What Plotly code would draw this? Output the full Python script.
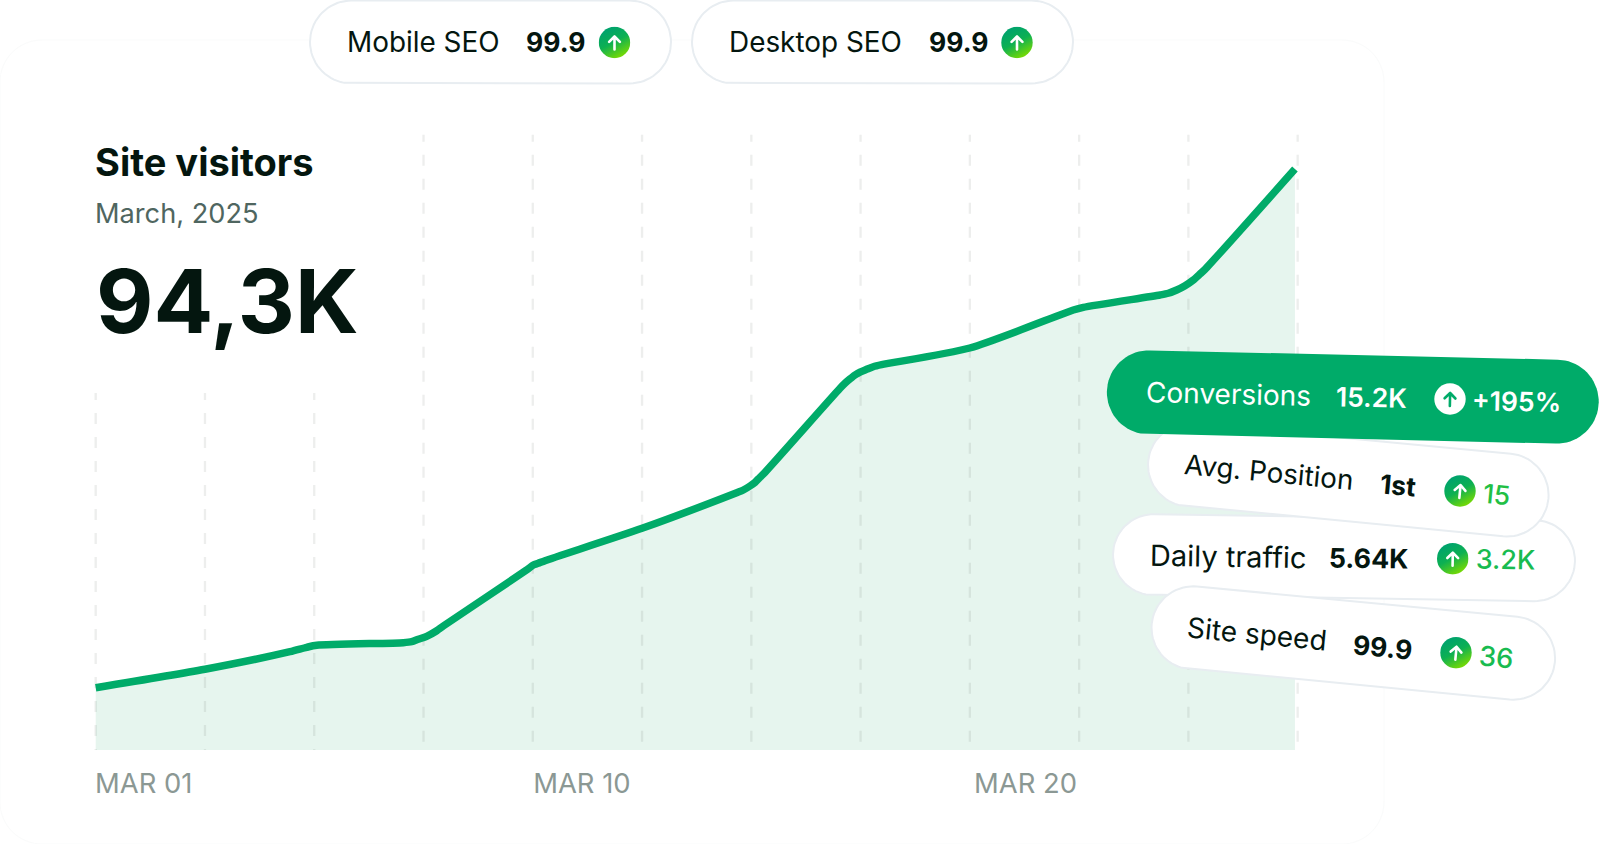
import base64
import math
import plotly.graph_objects as go

# ---------- data ----------
curve_x = [0, 1.0, 1.778, 1.931, 2.023, 2.815, 2.892, 2.952, 3.029, 3.121, 3.181, 3.944, 4.005, 4.05, 4.112, 5.0,
           5.866, 5.927, 5.988, 6.034, 6.079, 6.125, 6.812, 6.857, 6.903, 6.949, 6.995, 7.056, 7.116, 7.193, 7.999,
           8.947, 9.038, 9.74, 9.816, 9.893, 9.969, 10.045, 10.106, 10.152, 10.975]
curve_y = [10.11, 13.10, 15.96, 16.67, 16.99, 17.42, 17.58, 17.97, 18.45, 19.36, 20.13, 29.22, 30.03, 30.30, 30.73, 35.98,
           41.76, 42.20, 42.85, 43.45, 44.26, 45.07, 58.71, 59.52, 60.22, 60.87, 61.35, 61.79, 62.21, 62.54, 65.25,
           71.42, 71.85, 73.85, 74.13, 74.66, 75.36, 76.29, 77.26, 78.02, 94.30]
short_grid = [0, 1, 2]
tall_grid = [3, 4, 5, 6, 7, 8, 9, 10, 11]
short_top = 57.94
tall_top = 99.87
tick_vals = [0, 4.01, 8.07]
tick_text = ["MAR 01", "MAR 10", "MAR 20"]

title = "Site visitors"
subtitle = "March, 2025"
headline = "94,3K"

top_metrics = [("Mobile SEO", "99.9"), ("Desktop SEO", "99.9")]
side_metrics = [("Conversions", "15.2K", "+195%"), ("Avg. Position", "1st", "15"),
                ("Daily traffic", "5.64K", "3.2K"), ("Site speed", "99.9", "36")]

# ---------- page geometry ----------
W, H = 1600, 844
AXIS_PX = 750
X0_PX, X_STEP = 95.7, 109.27
Y_PER_PX = 0.16231
GREEN = "#00ab69"
INK = "#04160f"
FONT = "Inter"


def px(x, y):
    return x / W, (AXIS_PX - y) / AXIS_PX


def outline(cx, cy, length, height, angle, radius=None):
    r = height / 2 if radius is None else radius
    hw, hh = length / 2, height / 2
    corners = [(hw - r, -hh + r, -90), (hw - r, hh - r, 0), (-hw + r, hh - r, 90), (-hw + r, -hh + r, 180)]
    a = math.radians(angle)
    pts = []
    for ox, oy, start in corners:
        for k in range(19):
            t = math.radians(start + k * 5)
            lx, ly = ox + r * math.cos(t), oy + r * math.sin(t)
            pts.append((cx + lx * math.cos(a) - ly * math.sin(a), cy + lx * math.sin(a) + ly * math.cos(a)))
    pts.append(pts[0])
    return pts


def shape_path(pts):
    parts = []
    for x, y in pts:
        a, b = px(x, y)
        parts.append(f"{a:.5f},{b:.5f}")
    return "M" + " L".join(parts) + " Z"


def icon_uri(angle=0, inverted=False):
    if inverted:
        body = '<circle cx="16" cy="16" r="15.7" fill="#ffffff"/>'
        stroke = GREEN
    else:
        body = ('<defs><linearGradient id="g" x1="0.25" y1="0.1" x2="0.72" y2="0.98">'
                '<stop offset="0" stop-color="#00a36c"/><stop offset="0.45" stop-color="#0db052"/>'
                '<stop offset="1" stop-color="#7bdc00"/></linearGradient></defs>'
                '<circle cx="16" cy="16" r="15.7" fill="url(#g)"/>')
        stroke = "#ffffff"
    arrow = (f'<g transform="rotate({angle} 16 16)" fill="none" stroke="{stroke}" stroke-width="2.6" '
             'stroke-linecap="round" stroke-linejoin="round"><path d="M16 23V10M10.6 15.4L16 10l5.4 5.4"/></g>')
    svg = f'<svg xmlns="http://www.w3.org/2000/svg" width="64" height="64" viewBox="0 0 32 32">{body}{arrow}</svg>'
    return "data:image/svg+xml;base64," + base64.b64encode(svg.encode()).decode()


annotations, images, pills = [], [], []


def pill(cx, cy, length, height, angle, fill="#ffffff", line="#e8edf1", width=2):
    pills.append((outline(cx, cy, length, height, angle), fill, line, width))


def text(s, cx, cy, size, color=INK, weight=400, angle=0, anchor="center"):
    x, y = px(cx, cy)
    annotations.append(dict(text=s, x=x, y=y, xref="paper", yref="paper", xanchor=anchor, yanchor="middle",
                            showarrow=False, textangle=angle, borderpad=0, borderwidth=0,
                            font=dict(family=FONT, size=size, color=color, weight=weight)))


def icon(cx, cy, angle=0, inverted=False):
    x, y = px(cx, cy)
    images.append(dict(source=icon_uri(angle, inverted), xref="paper", yref="paper", x=x, y=y,
                       sizex=32 / W, sizey=32 / AXIS_PX, xanchor="center", yanchor="middle",
                       sizing="stretch", layer="above"))


# card outline (very faint)
card = dict(type="path", xref="paper", yref="paper", layer="below",
            path=shape_path(outline(692, 442, 1384, 804, 0, radius=42)),
            fillcolor="#ffffff", line=dict(color="#fafbfb", width=1))

# top pills
pill(490.5, 42, 361, 83, 0)
pill(882.5, 42, 381, 83, 0)
text(top_metrics[0][0], 423.5, 42.5, 27.9, INK)
text(top_metrics[0][1], 555.5, 42.5, 26.5, INK, 700)
icon(614.5, 42.5)
text(top_metrics[1][0], 815.5, 42.5, 27.9, INK)
text(top_metrics[1][1], 958, 42.5, 26.5, INK, 700)
icon(1017, 42.5)

# left header
text(title, 95, 161.5, 38, INK, 700, anchor="left")
text(subtitle, 95, 213, 27.2, "#4f6660", anchor="left")
text(headline, 95.5, 300, 88.5, INK, 700, anchor="left")

# side cards: back to front
pill(1344, 557.7, 462, 81, 0.9)
pill(1348.3, 480, 402, 83, 5.4)
pill(1353.3, 643, 405, 83, 5.4)
pill(1352.8, 397, 492, 84, 1.3, fill=GREEN, line=GREEN, width=0)

text(side_metrics[0][0], 1228, 394, 28, "#ffffff", angle=1.3)
text(side_metrics[0][1], 1371, 397.3, 26.5, "#ffffff", 600, angle=1.3)
icon(1450, 399, 1.3, inverted=True)
text(side_metrics[0][2], 1516.7, 401, 26.5, "#ffffff", 600, angle=1.3)

text(side_metrics[1][0], 1269, 471.8, 27.8, INK, angle=5.4)
text(side_metrics[1][1], 1397.7, 485, 26.5, INK, 700, angle=5.4)
icon(1460, 491, 5.4)
text(side_metrics[1][2], 1496, 494.3, 26.5, "#22bf45", 500, angle=5.4)

text(side_metrics[2][0], 1227.7, 556, 29, INK, angle=0.9)
text(side_metrics[2][1], 1368.7, 557.7, 26.8, INK, 700, angle=0.9)
icon(1452.7, 558.7, 0.9)
text(side_metrics[2][2], 1505.7, 559.3, 26.8, "#18bb50", 500, angle=0.9)

text(side_metrics[3][0], 1257.3, 634, 28.1, INK, angle=5.4)
text(side_metrics[3][1], 1382.3, 646.7, 26.5, INK, 700, angle=5.4)
icon(1456, 652.7, 5.4)
text(side_metrics[3][2], 1496.7, 657.3, 27.5, "#18bb50", 500, angle=5.4)


# ---------- traces ----------
def grid_xy(xs, top):
    gx, gy = [], []
    for v in xs:
        gx += [v, v, None]
        gy += [top, 0, None]
    return gx, gy


fig = go.Figure()
fig.add_trace(go.Scatter(x=curve_x, y=curve_y, mode="none", fill="tozeroy", fillcolor="#e6f5ee",
                         line=dict(shape="spline", smoothing=0.7), hoverinfo="skip", showlegend=False))
grid_dash = "7px,13px," + ",".join(["11px,13px"] * 30)
for xs, top in ((short_grid, short_top), (tall_grid, tall_top)):
    gx, gy = grid_xy(xs, top)
    fig.add_trace(go.Scatter(x=gx, y=gy, mode="lines", hoverinfo="skip", showlegend=False,
                             line=dict(color="rgba(20,40,30,0.08)", width=2.3, dash=grid_dash)))
fig.add_trace(go.Scatter(x=curve_x, y=curve_y, mode="lines", showlegend=False, hoverinfo="skip",
                         line=dict(color=GREEN, width=7.5, shape="spline", smoothing=0.7)))

# pills are filled traces so the icon images (upper image layer) stay on top of them
for pts, fill, line, width in pills:
    fig.add_trace(go.Scatter(x=[(p[0] - X0_PX) / X_STEP for p in pts],
                             y=[(AXIS_PX - p[1]) * Y_PER_PX for p in pts],
                             mode="lines", fill="toself", fillcolor=fill, cliponaxis=False,
                             line=dict(color=line, width=width), hoverinfo="skip", showlegend=False))

fig.update_layout(
    width=W, height=H, margin=dict(l=0, r=0, t=0, b=H - AXIS_PX, pad=0),
    paper_bgcolor="#ffffff", plot_bgcolor="rgba(0,0,0,0)", showlegend=False,
    font=dict(family=FONT),
    shapes=[card], annotations=annotations, images=images,
    xaxis=dict(range=[-X0_PX / X_STEP, (W - X0_PX) / X_STEP], showgrid=False, zeroline=False, showline=False,
               ticks="", tickmode="array", tickvals=tick_vals, ticktext=tick_text, ticklabelshift=48,
               ticklabelstandoff=15, tickfont=dict(family=FONT, size=27.4, color="#8b9894")),
    yaxis=dict(range=[0, AXIS_PX * Y_PER_PX], visible=False),
)

fig.write_html("out.html", config=dict(displayModeBar=False, staticPlot=True),
               post_script="document.body.style.margin='0';document.body.style.overflow='hidden';")
